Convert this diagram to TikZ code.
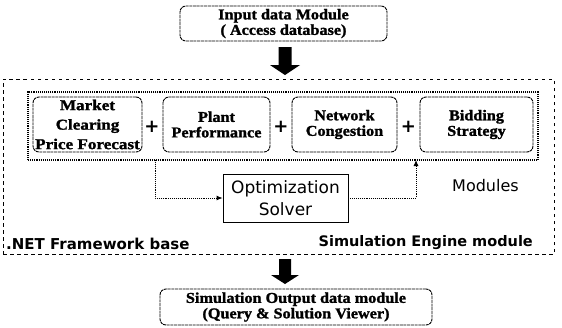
\documentclass[tikz,border=0pt]{standalone}
\usepackage{fontspec}
\setmainfont{Liberation Serif}[FakeStretch=1.08, BoldFeatures={FakeBold=1.5}]
\newfontfamily\wideserif{Liberation Serif}[FakeStretch=1.14, BoldFeatures={FakeBold=1.5}]
\newfontfamily\sansf{DejaVu Sans}
\usetikzlibrary{arrows.meta}
\begin{document}
\begin{tikzpicture}[x=1pt,y=-1pt,
  dbox/.style={draw, rounded corners=6pt, line width=0.9pt,
    dash pattern=on 3pt off 0.7pt, inner sep=0pt, align=center,
    font=\fontsize{15}{15.5}\selectfont\bfseries},
  modbox/.style={dbox, minimum height=55pt},
  plus/.style={font=\sansf\bfseries\fontsize{18}{18}\selectfont, inner sep=0pt},
  conn/.style={line width=0.9pt, densely dotted, -{Latex[length=6pt,width=5pt]}},
  sanslabel/.style={font=\sansf\fontsize{16}{18}\selectfont, inner sep=0pt},
  boldlabel/.style={font=\sansf\bfseries\fontsize{15}{16}\selectfont, inner sep=0pt},
  blockarrow/.style={fill=black}]
\useasboundingbox (0,0) rectangle (562,327);

% outer engine frame and inner module group
\node[draw, line width=0.8pt, dash pattern=on 3.5pt off 3.5pt,
      minimum width=551pt, minimum height=175pt] (engine) at (278.5,166.5) {};
\node[draw, line width=1.1pt, densely dotted,
      minimum width=510pt, minimum height=68pt] (group) at (283,126) {};

% input and output data modules
\node[dbox, minimum width=207pt, minimum height=35pt] (input) at (283.5,23.5)
  {Input data Module\\( Access database)};
\node[dbox, minimum width=272pt, minimum height=36pt] (output) at (296,307)
  {Simulation Output data module\\(Query \& Solution Viewer)};

% simulation modules
\node[modbox, minimum width=109pt, font=\wideserif\fontsize{15}{15.5}\selectfont\bfseries]
  (mcp) at (87.5,124.5) {Market\\[4pt]Clearing\\[4pt]Price Forecast};
\node[modbox, minimum width=107pt] (plant) at (216.5,124.5)
  {Plant\\Performance};
\node[modbox, minimum width=105pt] (net) at (344.5,124.5)
  {Network\\Congestion};
\node[modbox, minimum width=113pt] (bid) at (476.5,124.5)
  {Bidding\\Strategy};

\node[plus] (p1) at (152,127) {+};
\node[plus] (p2) at (281,127) {+};
\node[plus] (p3) at (408.5,127) {+};

% optimization solver
\node[draw, line width=0.8pt, minimum width=125pt, minimum height=48pt,
      inner sep=0pt, align=center, font=\sansf\fontsize{17}{22}\selectfont]
  (solver) at (285.5,198) {Optimization\\Solver};

\coordinate (tap) at (155,160);
\coordinate (feed) at (416,160);
\draw[conn] (tap) |- (solver.west);
\draw[conn] (solver.east) -| (feed);

% labels
\node[sanslabel, anchor=west] (modlabel) at (452,186) {Modules};
\node[boldlabel, anchor=west] (netlabel) at (6,244) {.NET Framework base};
\node[boldlabel, anchor=east, font=\sansf\bfseries\fontsize{14.5}{16}\selectfont]
  (simlabel) at (533,243) {Simulation Engine module};

% block arrows
\coordinate (a1) at (285,47);
\fill[blockarrow] (a1) ++(-6.5,0) -- ++(13,0) -- ++(0,18) -- ++(8.5,0)
  -- (285,75) -- ++(-15,-10) -- ++(8.5,0) -- cycle;
\coordinate (a2) at (285,259);
\fill[blockarrow] (a2) ++(-6,0) -- ++(12,0) -- ++(0,16) -- ++(8,0)
  -- (285,284) -- ++(-14,-9) -- ++(8,0) -- cycle;
\end{tikzpicture}
\end{document}
